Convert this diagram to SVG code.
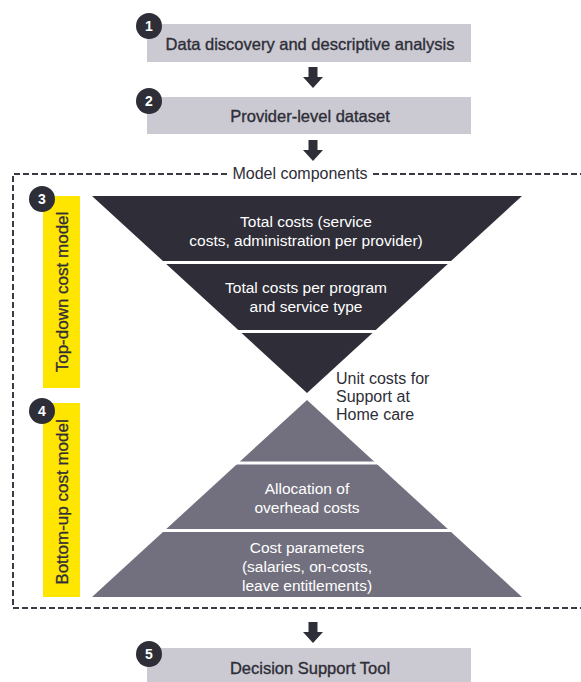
<svg xmlns="http://www.w3.org/2000/svg" width="581" height="682" viewBox="0 0 581 682">
  <style>
    .box { fill: #cbc9d1; }
    .boxtext { font-family: "Liberation Sans", Arial, sans-serif; font-size: 16.5px; fill: #2e2e38; stroke: #2e2e38; stroke-width: 0.35; text-anchor: middle; }
    .badge { fill: #2e2e38; }
    .badgetext { font-family: "Liberation Sans", Arial, sans-serif; font-size: 14px; font-weight: bold; fill: #ffffff; text-anchor: middle; }
    .inner { font-family: "Liberation Sans", Arial, sans-serif; font-size: 15.5px; fill: #ffffff; text-anchor: middle; }
    .side { fill: #ffe600; }
    .sidetext { font-family: "Liberation Sans", Arial, sans-serif; font-size: 17px; fill: #2e2e38; stroke: #2e2e38; stroke-width: 0.3; text-anchor: middle; }
    .note { font-family: "Liberation Sans", Arial, sans-serif; font-size: 16px; fill: #2e2e38; }
    .frame { fill: none; stroke: #3a3a44; stroke-width: 2; stroke-dasharray: 6 3; }
    .sep { stroke: #ffffff; stroke-width: 3; }
    .arrow { fill: #2e2e38; }
  </style>
  <defs>
    <path id="blockArrow" d="M -4.5 0 H 4.5 V 10 H 10 L 0 21 L -10 10 H -4.5 Z"/>
  </defs>

  <rect width="581" height="682" fill="#ffffff"/>

  <!-- connectors between steps -->
  <g id="connectors" class="arrow">
    <use href="#blockArrow" x="313" y="67"/>
    <use href="#blockArrow" x="313" y="140"/>
    <use href="#blockArrow" x="313" y="622"/>
  </g>

  <!-- step 1 -->
  <g id="step1">
    <rect class="box" x="147" y="24" width="324" height="38"/>
    <text class="boxtext" x="310" y="49.5">Data discovery and descriptive analysis</text>
    <circle class="badge" cx="149" cy="26" r="13"/>
    <text class="badgetext" x="149" y="31">1</text>
  </g>

  <!-- step 2 -->
  <g id="step2">
    <rect class="box" x="147" y="97" width="324" height="37"/>
    <text class="boxtext" x="310" y="121.5">Provider-level dataset</text>
    <circle class="badge" cx="149" cy="101" r="13"/>
    <text class="badgetext" x="149" y="106">2</text>
  </g>

  <!-- model components frame -->
  <g id="model-components">
    <path class="frame" d="M 227 174 H 13 V 608 H 583"/>
    <path class="frame" d="M 373 174 H 583"/>
    <text class="note" x="300" y="179" text-anchor="middle">Model components</text>
  </g>

  <!-- step 3: top-down cost model -->
  <g id="top-down">
    <rect class="side" x="43" y="196" width="37" height="192"/>
    <text class="sidetext" transform="translate(67.5 292) rotate(-90)">Top-down cost model</text>
    <circle class="badge" cx="42" cy="199" r="13"/>
    <text class="badgetext" x="42" y="204">3</text>
    <polygon points="92,196 522,196 307,393" fill="#2e2d38"/>
    <line class="sep" x1="150" y1="262.5" x2="470" y2="262.5"/>
    <line class="sep" x1="220" y1="331.5" x2="400" y2="331.5"/>
    <text class="inner" x="306" y="227">Total costs (service</text>
    <text class="inner" x="306" y="246">costs, administration per provider)</text>
    <text class="inner" x="306" y="293">Total costs per program</text>
    <text class="inner" x="306" y="312">and service type</text>
  </g>

  <!-- unit cost label between the two models -->
  <g id="unit-costs">
    <text class="note" x="336" y="384">Unit costs for</text>
    <text class="note" x="336" y="402">Support at</text>
    <text class="note" x="336" y="420">Home care</text>
  </g>

  <!-- step 4: bottom-up cost model -->
  <g id="bottom-up">
    <rect class="side" x="43" y="403" width="37" height="194"/>
    <text class="sidetext" transform="translate(67.5 502) rotate(-90)">Bottom-up cost model</text>
    <circle class="badge" cx="42" cy="411" r="13"/>
    <text class="badgetext" x="42" y="416">4</text>
    <polygon points="307,400 522,597 92,597" fill="#72707e"/>
    <line class="sep" x1="220" y1="463" x2="400" y2="463"/>
    <line class="sep" x1="150" y1="530.5" x2="470" y2="530.5"/>
    <text class="inner" x="307" y="494">Allocation of</text>
    <text class="inner" x="307" y="513">overhead costs</text>
    <text class="inner" x="307" y="553">Cost parameters</text>
    <text class="inner" x="307" y="572">(salaries, on-costs,</text>
    <text class="inner" x="307" y="591">leave entitlements)</text>
  </g>

  <!-- step 5 -->
  <g id="step5">
    <rect class="box" x="147" y="648" width="324" height="40"/>
    <text class="boxtext" x="310" y="673.5">Decision Support Tool</text>
    <circle class="badge" cx="149" cy="654" r="13"/>
    <text class="badgetext" x="149" y="659">5</text>
  </g>
</svg>
